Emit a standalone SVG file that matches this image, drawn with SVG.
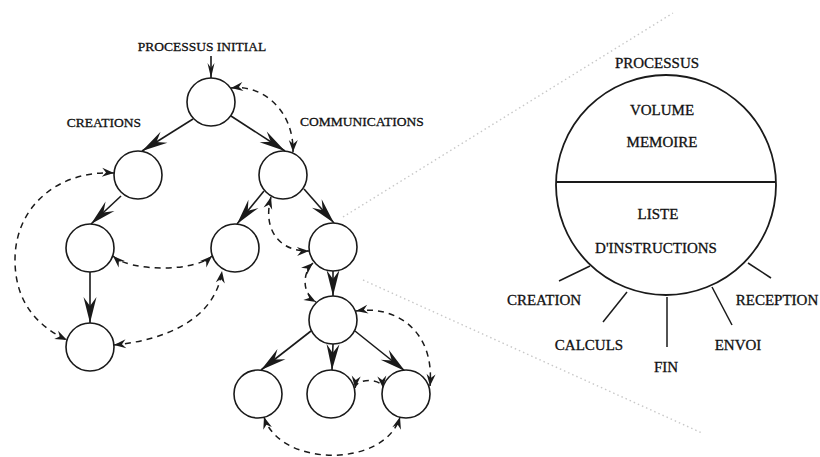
<svg xmlns="http://www.w3.org/2000/svg" width="820" height="457" viewBox="0 0 820 457">
<defs>
<style>
.n{fill:#fff;stroke:#1a1a1a;stroke-width:1.6}
.e{fill:none;stroke:#1a1a1a;stroke-width:1.6}
.d{fill:none;stroke:#1a1a1a;stroke-width:1.5;stroke-dasharray:6,5}
.t{font-family:"Liberation Serif","Times New Roman",serif;fill:#111;stroke:#111;stroke-width:0.3;text-anchor:middle}
.tl{font-size:13.5px}
.tr{font-size:15px}
.tk{fill:none;stroke:#1a1a1a;stroke-width:1.5}
.faint{fill:none;stroke:#c8c8c8;stroke-width:1.4;stroke-dasharray:1.5,3}
</style>
<marker id="big" viewBox="-28 -8 30 16" refX="0" refY="0" markerWidth="30" markerHeight="16" markerUnits="userSpaceOnUse" orient="auto">
<path d="M0,0 L-26,-6.5 L-17,0 L-26,6.5 Z" fill="#1a1a1a"/>
</marker>
<marker id="mid" viewBox="-16 -5 18 10" refX="0" refY="0" markerWidth="18" markerHeight="10" markerUnits="userSpaceOnUse" orient="auto">
<path d="M0,0 L-15,-3.5 L-10,0 L-15,3.5 Z" fill="#1a1a1a"/>
</marker>
<marker id="sm" viewBox="-13 -6 15 12" refX="0" refY="0" markerWidth="15" markerHeight="12" markerUnits="userSpaceOnUse" orient="auto-start-reverse">
<path d="M0,0 L-12,-4.5 L-8,0 L-12,4.5 Z" fill="#1a1a1a"/>
</marker>
</defs>
<rect x="0" y="0" width="820" height="457" fill="#fff"/>

<g id="zoom-lines">
<line class="faint" x1="343" y1="217" x2="673" y2="13"/>
<line class="faint" x1="363" y1="280" x2="702" y2="433"/>
</g>

<g id="connectors">
<line class="e" x1="211" y1="56" x2="211" y2="78" marker-end="url(#mid)"/>
<line class="e" x1="193" y1="119" x2="142" y2="151" marker-end="url(#big)"/>
<line class="e" x1="231" y1="116" x2="285" y2="151" marker-end="url(#big)"/>
<line class="e" x1="121" y1="196" x2="91" y2="224" marker-end="url(#big)"/>
<line class="e" x1="90" y1="272" x2="90" y2="323" marker-end="url(#big)"/>
<line class="e" x1="264" y1="191" x2="237" y2="224" marker-end="url(#big)"/>
<line class="e" x1="304" y1="189" x2="334" y2="223" marker-end="url(#big)"/>
<line class="e" x1="333" y1="271" x2="333" y2="296" marker-end="url(#big)"/>
<line class="e" x1="311" y1="331" x2="261" y2="370" marker-end="url(#big)"/>
<line class="e" x1="333" y1="344" x2="332" y2="370" marker-end="url(#big)"/>
<line class="e" x1="355" y1="331" x2="405" y2="371" marker-end="url(#big)"/>
<path class="d" d="M231,88 C262,84 294,110 293,152" marker-start="url(#sm)" marker-end="url(#sm)"/>
<path class="d" d="M114,173 C60,170 15,205 15,260 C15,300 35,325 67,340" marker-start="url(#sm)" marker-end="url(#sm)"/>
<path class="d" d="M113,256 C130,272 195,272 212,256" marker-start="url(#sm)" marker-end="url(#sm)"/>
<path class="d" d="M114,345 C165,340 215,320 222,271" marker-start="url(#sm)" marker-end="url(#sm)"/>
<path class="d" d="M271,197 C262,230 280,252 309,251" marker-start="url(#sm)" marker-end="url(#sm)"/>
<path class="d" d="M313,263 C302,273 302,294 316,302" marker-start="url(#sm)" marker-end="url(#sm)"/>
<path class="d" d="M356,311 C395,305 435,330 430,386" marker-start="url(#sm)" marker-end="url(#sm)"/>
<path class="d" d="M355,388 C356,378 382,378 383,388" marker-start="url(#sm)" marker-end="url(#sm)"/>
<path class="d" d="M264,417 C280,468 385,468 400,417" marker-start="url(#sm)" marker-end="url(#sm)"/>
</g>

<g id="n0"><circle class="n" cx="211" cy="102" r="24"/></g>
<g id="n1"><circle class="n" cx="138" cy="175" r="24"/></g>
<g id="n2"><circle class="n" cx="283" cy="175" r="24"/></g>
<g id="n3"><circle class="n" cx="90" cy="248" r="24"/></g>
<g id="n4"><circle class="n" cx="235" cy="248" r="24"/></g>
<g id="n5"><circle class="n" cx="333" cy="247" r="24"/></g>
<g id="n6"><circle class="n" cx="90" cy="347" r="24"/></g>
<g id="n7"><circle class="n" cx="333" cy="320" r="24"/></g>
<g id="n8"><circle class="n" cx="258" cy="394" r="24"/></g>
<g id="n9"><circle class="n" cx="331" cy="394" r="24"/></g>
<g id="n10"><circle class="n" cx="406" cy="394" r="24"/></g>

<g id="labels-left">
<text class="t tl" x="202" y="51">PROCESSUS INITIAL</text>
<text class="t tl" x="104" y="127">CREATIONS</text>
<text class="t tl" x="362" y="126">COMMUNICATIONS</text>
</g>

<g id="processus">
<ellipse cx="666" cy="185" rx="110" ry="110" fill="none" stroke="#1a1a1a" stroke-width="1.8"/>
<line x1="556" y1="182" x2="776" y2="182" stroke="#1a1a1a" stroke-width="1.8"/>
<text class="t tr" x="657" y="68">PROCESSUS</text>
<text class="t tr" x="662" y="115">VOLUME</text>
<text class="t tr" x="662" y="147">MEMOIRE</text>
<text class="t tr" x="658" y="219">LISTE</text>
<text class="t tr" x="656" y="253">D'INSTRUCTIONS</text>
</g>

<g id="instructions">
<line class="tk" x1="590" y1="266" x2="559" y2="281"/>
<line class="tk" x1="627" y1="292" x2="603" y2="322"/>
<line class="tk" x1="667" y1="297" x2="667" y2="347"/>
<line class="tk" x1="712" y1="287" x2="732" y2="325"/>
<line class="tk" x1="748" y1="263" x2="771" y2="278"/>
<text class="t tr" x="544" y="305">CREATION</text>
<text class="t tr" x="589" y="350">CALCULS</text>
<text class="t tr" x="666" y="372">FIN</text>
<text class="t tr" x="738" y="350">ENVOI</text>
<text class="t tr" x="777" y="305">RECEPTION</text>
</g>
</svg>
